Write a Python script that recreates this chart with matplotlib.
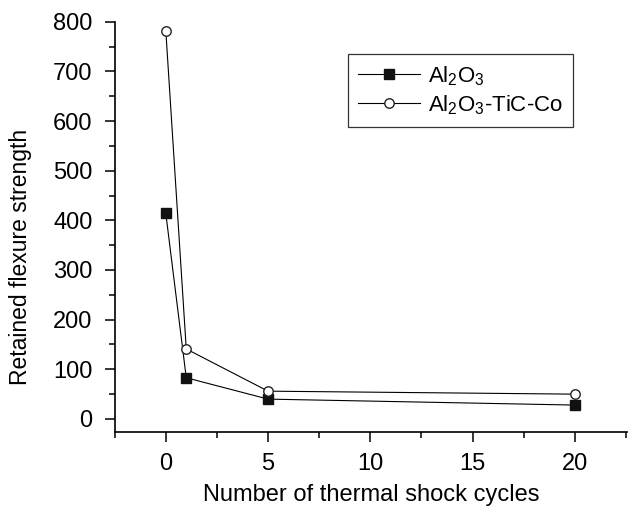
import numpy as np
import matplotlib.pyplot as plt
from matplotlib.ticker import MultipleLocator

plt.rcParams['font.family'] = ['Liberation Sans', 'DejaVu Sans']
plt.rcParams['mathtext.fontset'] = 'custom'
plt.rcParams['mathtext.rm'] = 'Liberation Sans'
plt.rcParams['mathtext.default'] = 'regular'

cycles = [0, 1, 5, 20]
al2o3 = [414, 83, 40, 28]
al2o3_tic_co = [782, 141, 56, 50]

fig = plt.figure(figsize=(6.28, 5.13), dpi=100)
ax = fig.add_axes([0.1826, 0.1585, 0.8158, 0.7992])

ax.plot(cycles, al2o3, c='black', lw=0.8, marker='s', ms=6.5, mfc='#111111',
        mec='#111111', label=r'Al$_2$O$_3$')
ax.plot(cycles, al2o3_tic_co, c='black', lw=0.8, marker='o', ms=6.8, mfc='white',
        mec='#222222', mew=1.0, label=r'Al$_2$O$_3$-TiC-Co')

ax.set_xlim(-2.5, 22.55)
ax.set_ylim(-25.6, 800)

ax.spines['top'].set_visible(False)
ax.spines['right'].set_visible(False)
ax.spines['left'].set_linewidth(1.2)
ax.spines['bottom'].set_linewidth(1.2)

ax.xaxis.set_major_locator(MultipleLocator(5))
ax.xaxis.set_minor_locator(MultipleLocator(2.5))
ax.yaxis.set_major_locator(MultipleLocator(100))
ax.yaxis.set_minor_locator(MultipleLocator(50))
ax.tick_params(which='major', length=7, width=1.1, labelsize=17, direction='out')
ax.tick_params(which='minor', length=4, width=1.1, direction='out')
ax.tick_params(axis='x', which='major', pad=8)
ax.tick_params(axis='y', which='major', pad=9)

ax.set_xlabel('Number of thermal shock cycles', fontsize=17, labelpad=7)
ax.set_ylabel('Retained flexure strength', fontsize=16.5)
ax.yaxis.set_label_coords(-0.161, 0.426)

leg = ax.legend(loc='upper left', bbox_to_anchor=(0.455, 0.921), fontsize=16,
                frameon=True, fancybox=False, edgecolor='black', handlelength=2.8,
                borderpad=0.45, labelspacing=0.25, handletextpad=0.35,
                borderaxespad=0)
leg.get_frame().set_linewidth(0.9)

fig.savefig('out.png', dpi=100)
